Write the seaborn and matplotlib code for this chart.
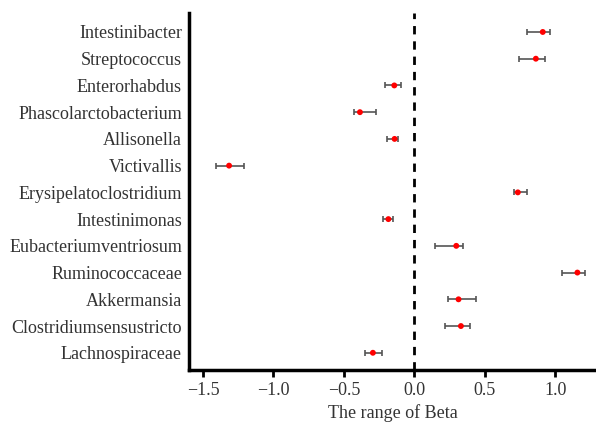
import matplotlib
matplotlib.use("Agg")
import matplotlib.pyplot as plt
import seaborn as sns
import pandas as pd
import numpy as np

# taxa, top to bottom
taxa = ['Intestinibacter', 'Streptococcus', 'Enterorhabdus', 'Phascolarctobacterium',
        'Allisonella', 'Victivallis', 'Erysipelatoclostridium', 'Intestinimonas',
        'Eubacteriumventriosum', 'Ruminococcaceae', 'Akkermansia',
        'Clostridiumsensustricto', 'Lachnospiraceae']
beta = [0.912, 0.863, -0.142, -0.386, -0.140, -1.315, 0.735, -0.184,
        0.298, 1.158, 0.314, 0.331, -0.294]
low = [0.797, 0.740, -0.211, -0.426, -0.192, -1.411, 0.711, -0.220,
       0.149, 1.052, 0.238, 0.217, -0.352]
high = [0.964, 0.929, -0.095, -0.274, -0.118, -1.208, 0.799, -0.152,
        0.343, 1.213, 0.437, 0.399, -0.230]

df = pd.DataFrame({'taxon': taxa, 'beta': beta, 'low': low, 'high': high})

sns.set_style("ticks")
plt.rcParams['font.family'] = ['Liberation Serif', 'DejaVu Serif']

fig = plt.figure(figsize=(5.96, 4.24), dpi=100)
ax = fig.add_axes([0.317, 0.127, 0.683, 0.843])

pos = np.arange(len(df))
ax.errorbar(df['beta'], pos,
            xerr=[df['beta'] - df['low'], df['high'] - df['beta']],
            fmt='none', ecolor='#555555', elinewidth=1.2, capsize=2.5,
            capthick=1.2, zorder=2)
sns.scatterplot(x=df['beta'], y=pos, color='red', s=18, edgecolor='none',
                ax=ax, zorder=3)
ax.axvline(0, color='black', linestyle=(0, (3, 2.5)), linewidth=2, zorder=1)

ax.set_yticks(pos)
ax.set_yticklabels(taxa)
ax.set_ylim(12.65, -0.72)
ax.set_xlim(-1.6, 1.29)
ax.set_xticks([-1.5, -1.0, -0.5, 0.0, 0.5, 1.0])

ax.spines['top'].set_visible(False)
ax.spines['right'].set_visible(False)
for side in ['left', 'bottom']:
    ax.spines[side].set_linewidth(2.5)
    ax.spines[side].set_color('black')
ax.tick_params(axis='y', length=0, labelsize=13, pad=5, labelcolor='#333333')
ax.tick_params(axis='x', length=5, width=2, color='black', labelsize=13,
               labelcolor='#333333')
ax.set_xlabel('The range of Beta', fontsize=13, color='#333333')
ax.set_ylabel('')

fig.savefig('out.png', dpi=100)
